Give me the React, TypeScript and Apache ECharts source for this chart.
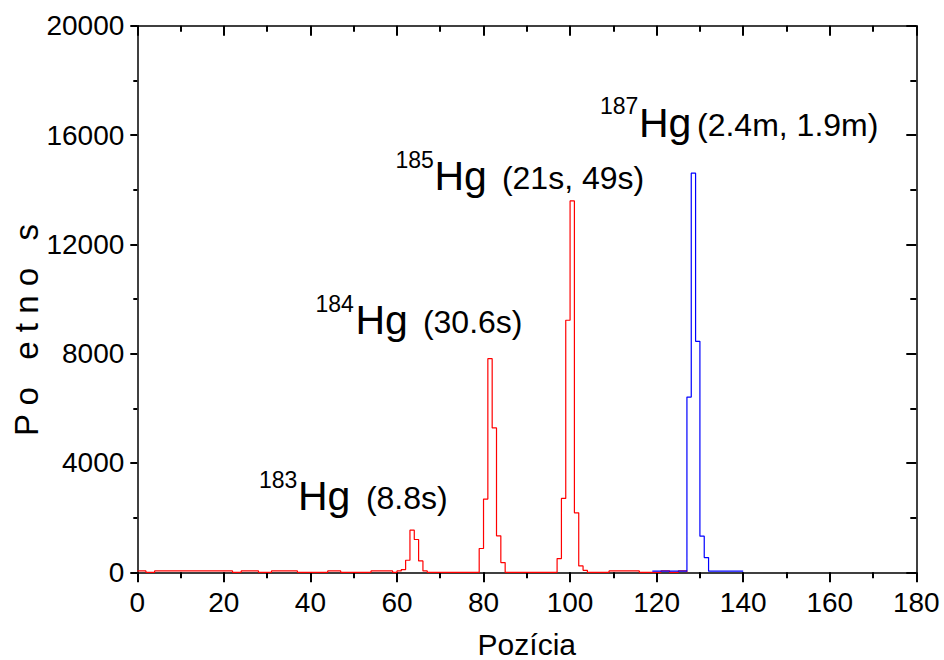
import React, { useEffect, useRef } from "react";
import * as echarts from "echarts";

// Red histogram (183Hg, 184Hg, 185Hg): bin start positions and counts
const redStart = [0, 2, 4, 22, 24, 28, 31, 37, 44, 47, 54, 59, 60, 61, 62, 63, 64, 65, 66, 67, 79, 80, 81, 82, 83, 84, 85, 97, 98, 99, 100, 101, 102, 103, 104, 109, 116, 121, 123, 125, 127];
const redVal = [50, 0, 50, 0, 50, 0, 50, 0, 50, 0, 50, 0, 50, 100, 440, 1540, 1200, 415, 50, 0, 870, 2679, 7817, 5284, 1333, 356, 0, 502, 2704, 9222, 13590, 2177, 233, 73, 0, 50, 0, 50, 0, 50, 0];

// Blue histogram (187Hg)
const blueStart = [119, 127, 128, 129, 130, 131, 132, 140];
const blueVal = [40, 6411, 14605, 8453, 1321, 539, 40, 40];

const xMin = 0, xMax = 180, xStep = 20;
const yMin = 0, yMax = 20000, yStep = 4000;

const xName = "Pozícia";
const yName = "P o   e t n o   s";

// Annotations: isotope mass numbers and half-life texts
const isotopes = ["183", "184", "185", "187"];
const halfLives = [" (8.8s)", " (30.6s)", " (21s, 49s)", "(2.4m, 1.9m)"];

const FONT = "'Liberation Sans', Arial, Helvetica, sans-serif";

export default function App() {
  const ref = useRef<HTMLDivElement>(null);
  useEffect(() => {
    if (!ref.current) return;
    const chart = echarts.init(ref.current, null, { renderer: "svg" });
    const toPairs = (xs: number[], ys: number[]) => xs.map((x, i) => [x, ys[i]]);

    // label layout positions (pixels)
    const pos = [
      { sx: 259, sy: 480, hx: 298, hy: 496, px: 357, py: 498 },
      { sx: 315.5, sy: 304, hx: 355.5, hy: 320, px: 414, py: 322 },
      { sx: 395.5, sy: 160, hx: 434.5, hy: 176, px: 493, py: 178 },
      { sx: 600, sy: 106, hx: 639, hy: 122.5, px: 697, py: 125 },
    ];
    const graphics: any[] = [];
    isotopes.forEach((iso, i) => {
      const p = pos[i];
      graphics.push({
        type: "text", x: p.sx, y: p.sy,
        style: { text: iso, font: `23px ${FONT}`, fill: "#000", textAlign: "left", textVerticalAlign: "middle" },
      });
      graphics.push({
        type: "text", x: p.hx, y: p.hy,
        style: { text: "Hg", font: `41px ${FONT}`, fill: "#000", textAlign: "left", textVerticalAlign: "middle" },
      });
      graphics.push({
        type: "text", x: p.px, y: p.py,
        style: { text: halfLives[i], font: `32px ${FONT}`, fill: "#000", textAlign: "left", textVerticalAlign: "middle" },
      });
    });
    graphics.push({
      type: "text", x: 26, y: 330, rotation: Math.PI / 2,
      style: { text: yName, font: `33px ${FONT}`, fill: "#000", textAlign: "center", textVerticalAlign: "middle" },
    });

    const lineStyle = { color: "#000", width: 1.5 };
    const fmt = (v: number) => String(v);
    chart.setOption({
      animation: false,
      backgroundColor: "#fff",
      grid: { left: 137.3, top: 25.7, right: 27.7, bottom: 87.7, containLabel: false, outerBoundsMode: "none" },
      xAxis: [
        {
          type: "value", position: "bottom", min: xMin, max: xMax, interval: xStep, z: 3,
          name: xName, nameLocation: "middle", nameGap: 57,
          nameTextStyle: { fontFamily: FONT, fontSize: 30, lineHeight: 30, color: "#000" },
          axisLine: { show: true, onZero: false, lineStyle },
          axisTick: { show: true, inside: false, length: 10, lineStyle: { color: "#000", width: 2 } },
          minorTick: { show: true, splitNumber: 2, length: 6, lineStyle: { color: "#000", width: 2 } },
          axisLabel: { fontFamily: FONT, fontSize: 28, color: "#000", margin: 16, formatter: fmt },
          splitLine: { show: false },
        },
        {
          type: "value", position: "top", min: xMin, max: xMax, interval: xStep, z: 3,
          axisLine: { show: true, onZero: false, lineStyle },
          axisTick: { show: true, inside: true, length: 10, lineStyle: { color: "#000", width: 2 } },
          minorTick: { show: true, splitNumber: 2, length: 6, lineStyle: { color: "#000", width: 2 } },
          axisLabel: { show: false },
          splitLine: { show: false },
        },
      ],
      yAxis: [
        {
          type: "value", position: "left", min: yMin, max: yMax, interval: yStep, z: 3,
          axisLine: { show: true, onZero: false, lineStyle },
          axisTick: { show: true, inside: false, length: 7, lineStyle: { color: "#000", width: 2 } },
          minorTick: { show: true, splitNumber: 2, length: 4, lineStyle: { color: "#000", width: 2 } },
          axisLabel: { fontFamily: FONT, fontSize: 28, color: "#000", margin: 13, formatter: fmt },
          splitLine: { show: false },
        },
        {
          type: "value", position: "right", min: yMin, max: yMax, interval: yStep, z: 3,
          axisLine: { show: true, onZero: false, lineStyle },
          axisTick: { show: true, inside: true, length: 10, lineStyle: { color: "#000", width: 2 } },
          minorTick: { show: true, splitNumber: 2, length: 6, lineStyle: { color: "#000", width: 2 } },
          axisLabel: { show: false },
          splitLine: { show: false },
        },
      ],
      series: [
        {
          type: "line", name: "red", step: "end", showSymbol: false, symbol: "none",
          xAxisIndex: 0, yAxisIndex: 0,
          data: toPairs(redStart, redVal),
          lineStyle: { color: "#ff0000", width: 1.2 },
        },
        {
          type: "line", name: "blue", step: "end", showSymbol: false, symbol: "none",
          xAxisIndex: 0, yAxisIndex: 0, z: 4,
          data: toPairs(blueStart, blueVal),
          lineStyle: { color: "#0000ff", width: 1.2 },
        },
      ],
      graphic: graphics,
    });
    return () => chart.dispose();
  }, []);
  return (
    <div
      ref={ref}
      style={{ position: "fixed", left: 0, top: 0, width: 944, height: 660, background: "#fff" }}
    />
  );
}
